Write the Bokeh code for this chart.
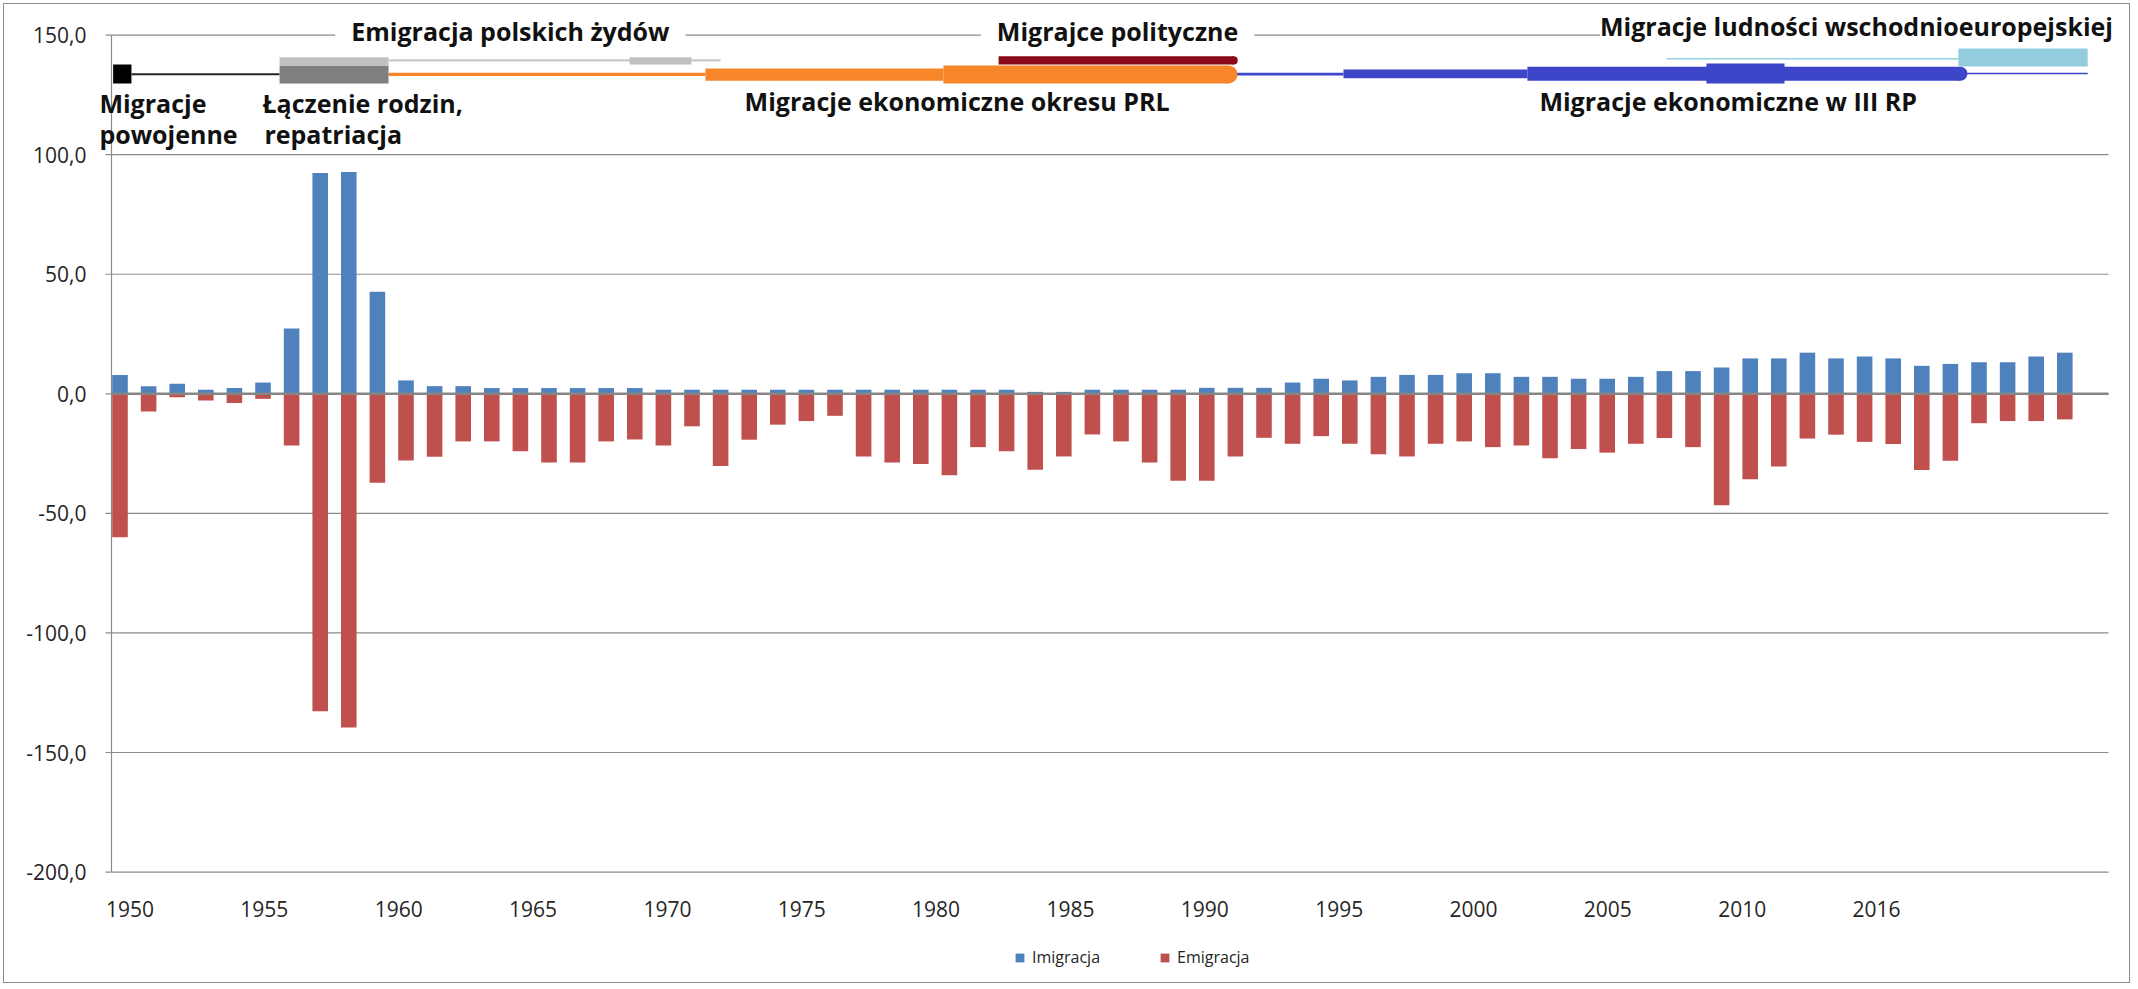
from bokeh.plotting import figure
from bokeh.models import Range1d, FixedTicker, Label, Legend, LegendItem, LinearAxis
from bokeh.embed import file_html
from bokeh.resources import INLINE

# ---------------- data ----------------
years = list(range(1950, 2019))
imigracja = [7.9, 3.2, 4.2, 1.7, 2.4, 4.7, 27.3, 92.3, 92.8, 42.7,
             5.6, 3.2, 3.2, 2.4, 2.4, 2.4, 2.4, 2.4, 2.4, 1.7,
             1.7, 1.7, 1.7, 1.7, 1.7, 1.7, 1.7, 1.7, 1.7, 1.7,
             1.7, 1.7, 0.8, 0.8, 1.7, 1.7, 1.7, 1.7, 2.5, 2.5,
             2.5, 4.7, 6.3, 5.6, 7.1, 7.9, 7.9, 8.6, 8.6, 7.1,
             7.1, 6.3, 6.3, 7.1, 9.5, 9.5, 11.0, 14.8, 14.8, 17.2,
             14.8, 15.6, 14.8, 11.7, 12.5, 13.2, 13.2, 15.6, 17.2]
emigracja = [60.0, 7.4, 1.4, 2.8, 3.8, 2.1, 21.6, 132.7, 139.5, 37.2,
             27.9, 26.3, 19.9, 19.9, 24.0, 28.7, 28.7, 19.9, 19.1, 21.6,
             13.6, 30.2, 19.2, 12.9, 11.4, 9.2, 26.2, 28.7, 29.4, 34.1,
             22.3, 24.0, 31.8, 26.2, 17.0, 19.9, 28.7, 36.4, 36.4, 26.2,
             18.4, 20.9, 17.7, 20.9, 25.3, 26.2, 20.9, 19.9, 22.3, 21.6,
             27.0, 23.1, 24.6, 20.9, 18.5, 22.3, 46.6, 35.7, 30.4, 18.7,
             17.1, 20.1, 21.0, 31.9, 28.0, 12.3, 11.4, 11.4, 10.7]
x_tick_labels = ["1950", "1955", "1960", "1965", "1970", "1975", "1980",
                 "1985", "1990", "1995", "2000", "2005", "2010", "2016"]
y_ticks = [-200, -150, -100, -50, 0, 50, 100, 150]

# timeline periods (start year, end year)
tl_start = [1949.76, 1950.40, 1955.58, 1955.58, 1959.39, 1967.82, 1959.39,
            1970.47, 1978.79, 1980.72, 1989.00, 1992.78, 1999.21, 2005.47,
            2014.35, 2004.07, 2014.28]
tl_end = [1950.40, 1955.58, 1959.39, 1959.39, 1971.00, 1969.98, 1970.47,
          1978.79, 1988.76, 1988.94, 1992.78, 1999.21, 2014.35, 2008.20,
          2018.80, 2014.28, 2018.80]

# ---------------- styling ----------------
tl_top = [137.7, 134.0, 137.3, 140.7, 139.9, 140.7, 134.2,
          136.0, 137.3, 141.1, 134.2, 135.6, 136.8, 138.1,
          134.2, 140.4, 144.4]
tl_bottom = [129.8, 133.2, 129.8, 137.3, 139.0, 137.7, 132.9,
             130.9, 129.8, 137.7, 133.1, 131.9, 130.9, 129.8,
             133.6, 139.8, 136.9]
ORANGE = "#F7862A"
BLUE = "#3D45C9"
tl_color = ["#000000", "#262626", "#7F7F7F", "#C0C0C0", "#C8C8C8", "#C0C0C0", ORANGE,
            ORANGE, ORANGE, "#8B0A1A", BLUE, BLUE, BLUE, BLUE,
            BLUE, "#8FD3E0", "#93CDDD"]
rounded_ends = [8, 9, 12]            # timeline bars drawn with a rounded right end

FONT = "Open Sans"
TXT = "#262626"
GRID = "#8c8c8c"

# geometry in page pixels (figure content starts at page pixel 4)
PX_PER_YEAR = 28.6
PX_PER_UNIT = 837 / 350
BAR0_PX = 119.5                      # page x of the 1950 bar centre
ZERO_PX = 393.3                      # page y of value 0
FR_L, FR_R, FR_T, FR_B = 96, 2131, 4, 984


def yr(px):
    return 1950 + (px - BAR0_PX) / PX_PER_YEAR


def val(py):
    return (ZERO_PX - py) / PX_PER_UNIT


PLOT_X0, PLOT_X1 = yr(111), yr(2108)

LAB_PX0, LAB_STEP = 129.5, 134.35 / 5   # page x of first label, px per label unit
lab_start = 1950 + (FR_L - LAB_PX0) / LAB_STEP
lab_end = 1950 + (FR_R - LAB_PX0) / LAB_STEP

p = figure(width=FR_R - 4, height=FR_B - 4, output_backend="svg", toolbar_location=None,
           x_range=Range1d(yr(FR_L), yr(FR_R)), y_range=Range1d(val(FR_B), val(FR_T)),
           min_border_left=FR_L - 4, min_border_right=0, min_border_top=0,
           min_border_bottom=0, title=None,
           styles={"border": "1px solid #8c8c8c", "margin": "3px 0px 0px 3px"})
p.extra_x_ranges = {"lab": Range1d(lab_start, lab_end)}
p.outline_line_color = None
p.background_fill_color = "white"
p.border_fill_color = "white"
p.xgrid.grid_line_color = None
p.ygrid.grid_line_color = None
p.xaxis.visible = False

# y axis (labels only; line/ticks drawn at plot-area edge)
p.yaxis.ticker = FixedTicker(ticks=y_ticks)
p.yaxis.major_label_overrides = {v: f"{v:.1f}".replace(".", ",") for v in y_ticks}
p.yaxis.axis_line_color = None
p.yaxis.major_tick_line_color = None
p.yaxis.major_tick_out = 0
p.yaxis.major_tick_in = 0
p.yaxis.minor_tick_line_color = None
p.yaxis.major_label_standoff = 10
p.yaxis.major_label_text_font = FONT
p.yaxis.major_label_text_font_size = "21px"
p.yaxis.major_label_text_color = TXT

# category-label axis at the bottom of the plot area
x_tick_pos = [1950 + 5 * i for i in range(len(x_tick_labels))]
xax = LinearAxis(x_range_name="lab", fixed_location=-200,
                 ticker=FixedTicker(ticks=x_tick_pos),
                 major_label_overrides={pos: lab for pos, lab in zip(x_tick_pos, x_tick_labels)},
                 axis_line_color=None, major_tick_line_color=None,
                 minor_tick_line_color=None, major_tick_out=0, major_tick_in=0,
                 major_label_standoff=29, major_label_text_font=FONT,
                 major_label_text_font_size="21px", major_label_text_color=TXT)
p.add_layout(xax, "below")

# horizontal gridlines across the plot area
p.segment(x0=PLOT_X0, x1=PLOT_X1, y0=y_ticks, y1=y_ticks, line_color=GRID, line_width=1.2)
# y-axis line and outside tick marks
p.segment(x0=PLOT_X0, x1=PLOT_X0, y0=-200, y1=150, line_color=GRID, line_width=1.2)
p.segment(x0=PLOT_X0 - 6 / PX_PER_YEAR, x1=PLOT_X0, y0=y_ticks, y1=y_ticks,
          line_color=GRID, line_width=1.2)

# bars
r_imm = p.vbar(x=years, top=imigracja, bottom=0, width=0.545,
               fill_color="#4F81BD", line_color=None)
r_emi = p.vbar(x=years, top=0, bottom=[-v for v in emigracja], width=0.545,
               fill_color="#C0504D", line_color=None)

# zero line
p.segment(x0=PLOT_X0, x1=PLOT_X1, y0=0, y1=0, line_color="#868686", line_width=2.5)

# timeline
p.quad(left=tl_start, right=tl_end, top=tl_top, bottom=tl_bottom,
       fill_color=tl_color, line_color=None)
p.scatter(x=[tl_end[i] for i in rounded_ends],
          y=[(tl_top[i] + tl_bottom[i]) / 2 for i in rounded_ends],
          size=[(tl_top[i] - tl_bottom[i]) * PX_PER_UNIT for i in rounded_ends],
          marker="circle", fill_color=[tl_color[i] for i in rounded_ends], line_color=None)


# timeline labels
def lab(text, x, y, align="left", pad=None):
    kw = {}
    if pad is not None:
        kw = dict(background_fill_color="white", background_fill_alpha=1.0, padding=pad)
    p.add_layout(Label(x=x, y=y, text=text, text_align=align, text_baseline="alphabetic",
                       text_font=FONT, text_font_style="bold", text_font_size="25px",
                       text_line_height=1.0, text_color="#111111", **kw))


lab("Emigracja polskich żydów", 1963.65, 151.5, "center", dict(left=16, right=16, top=0, bottom=0))
lab("Migrajce polityczne", 1984.88, 151.5, "center", dict(left=16, right=16, top=0, bottom=0))
lab("Migracje ludności wschodnioeuropejskiej", 2001.75, 153.9, "left", dict(left=0, right=10, top=0, bottom=0))
lab("Migracje ekonomiczne okresu PRL", 1971.84, 122.3)
lab("Migracje ekonomiczne w III RP", 1999.63, 122.3)
lab("Migracje", 1949.28, 121.8)
lab("powojenne", 1949.28, 108.5)
lab("Łączenie rodzin,", 1954.98, 121.8)
lab("repatriacja", 1955.05, 108.5)

legend = Legend(items=[LegendItem(label="Imigracja", renderers=[r_imm]),
                       LegendItem(label="Emigracja", renderers=[r_emi])],
                orientation="horizontal", location=(918, 16),
                padding=0, margin=0, spacing=59, border_line_color=None,
                background_fill_alpha=0, label_text_font=FONT,
                label_text_font_size="16px", label_text_color=TXT,
                glyph_width=11, glyph_height=11, label_standoff=7)
p.add_layout(legend)

open("out.html", "w").write(file_html(p, INLINE))
